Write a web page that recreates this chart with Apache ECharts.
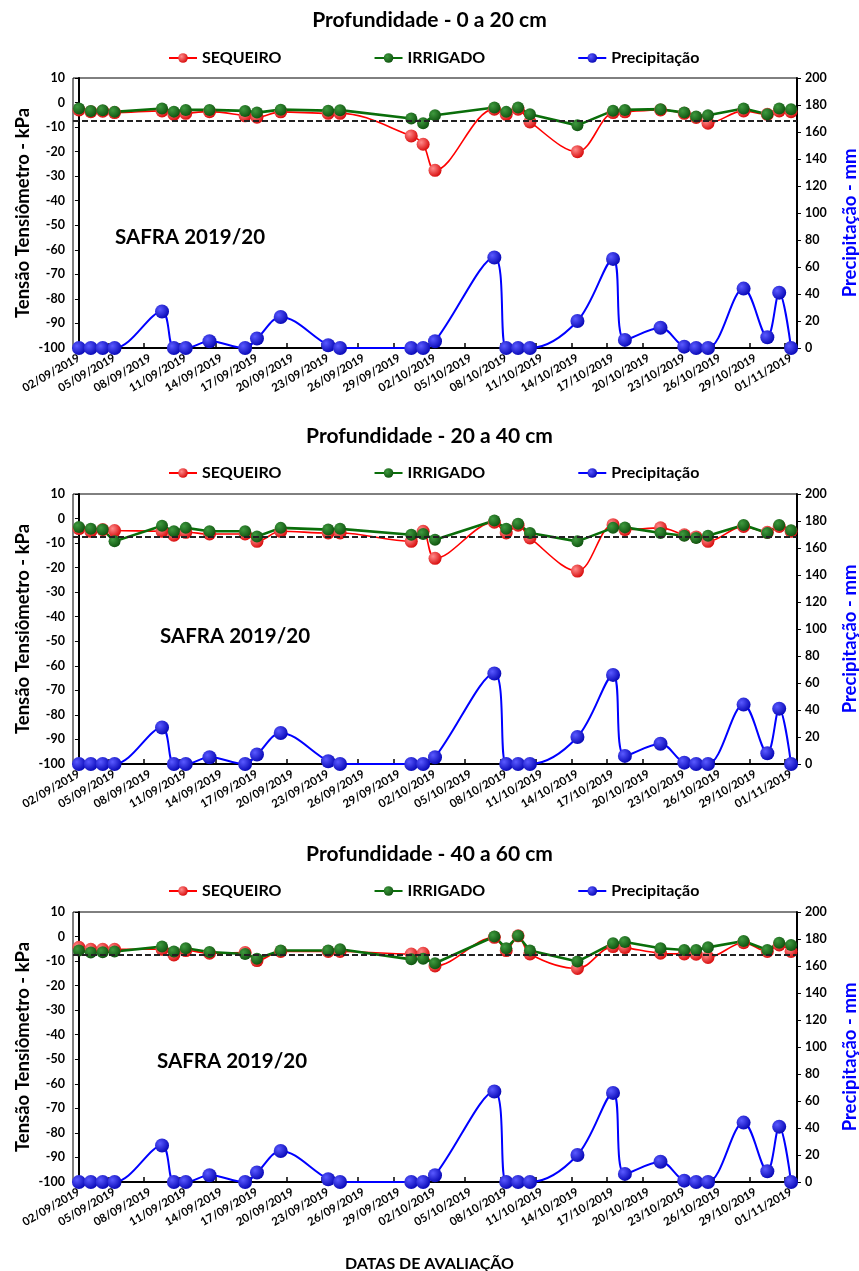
<!DOCTYPE html>
<html>
<head>
<meta charset="utf-8">
<script src="https://cdn.jsdelivr.net/npm/echarts@6/dist/echarts.min.js"></script>
<style>
  html, body { margin: 0; padding: 0; background: #fff; }
  #chart { width: 859px; height: 1271px; }
</style>
</head>
<body>
<div id="chart"></div>
<script>
// datas de avaliação
const dates = ['02/09/2019', '03/09/2019', '04/09/2019', '05/09/2019', '09/09/2019', '10/09/2019', '11/09/2019', '13/09/2019',
  '16/09/2019', '17/09/2019', '19/09/2019', '23/09/2019', '24/09/2019', '30/09/2019', '01/10/2019', '02/10/2019',
  '07/10/2019', '08/10/2019', '09/10/2019', '10/10/2019', '14/10/2019', '17/10/2019', '18/10/2019', '21/10/2019',
  '23/10/2019', '24/10/2019', '25/10/2019', '28/10/2019', '30/10/2019', '31/10/2019', '01/11/2019']

const tickLabels = ['02/09/2019', '05/09/2019', '08/09/2019', '11/09/2019', '14/09/2019', '17/09/2019', '20/09/2019',
  '23/09/2019', '26/09/2019', '29/09/2019', '02/10/2019', '05/10/2019', '08/10/2019', '11/10/2019', '14/10/2019',
  '17/10/2019', '20/10/2019', '23/10/2019', '26/10/2019', '29/10/2019', '01/11/2019']

const precipitacao = [0, 0, 0, 0, 27, 0, 0, 5, 0, 7, 23, 2, 0, 0, 0, 5, 67, 0, 0, 0, 20, 66, 6, 15, 1, 0, 0, 44, 8, 41, 0]

const sequeiro0a20 = [-3.0, -3.7, -3.5, -4.1, -3.4, -4.8, -4.4, -3.7, -5.4, -6.0, -3.8, -4.4, -4.4, -13.6, -17.0, -27.6,
  -2.7, -4.8, -2.7, -7.9, -20.0, -4.1, -3.8, -3.0, -4.4, -6.1, -8.4, -3.4, -4.8, -3.4, -3.7]
const irrigado0a20 = [-2.4, -3.4, -3.1, -3.8, -2.4, -3.7, -3.0, -3.0, -3.4, -4.1, -2.9, -3.3, -3.1, -6.5, -8.4, -5.2,
  -2.0, -3.8, -2.0, -4.8, -9.3, -3.3, -3.0, -2.7, -4.1, -5.7, -5.2, -2.4, -4.8, -2.4, -2.7]

const sequeiro20a40 = [-4.1, -5.2, -4.5, -4.9, -5.2, -6.8, -5.6, -6.3, -6.3, -9.3, -5.2, -5.9, -5.9, -9.3, -5.2, -16.2,
  -1.5, -5.9, -2.7, -7.9, -21.4, -2.5, -4.5, -3.8, -6.6, -7.5, -9.3, -3.2, -5.6, -3.2, -5.2]
const irrigado20a40 = [-3.4, -4.2, -4.5, -9.3, -2.9, -5.2, -3.8, -5.2, -5.2, -7.3, -3.8, -4.5, -4.2, -6.6, -6.3, -8.6,
  -0.8, -4.2, -2.1, -5.9, -9.3, -3.8, -3.6, -5.9, -7.0, -7.9, -7.0, -2.6, -5.9, -2.6, -4.8]

const sequeiro40a60 = [-4.4, -5.2, -5.2, -5.2, -5.2, -7.5, -5.7, -6.8, -6.5, -9.8, -6.1, -6.1, -6.1, -7.1, -6.8, -12.0,
  -0.3, -5.7, 0.3, -7.1, -13.0, -4.1, -4.5, -6.8, -7.1, -7.2, -8.5, -2.5, -6.1, -3.4, -6.1]
const irrigado40a60 = [-5.7, -6.5, -6.4, -6.1, -4.1, -6.1, -4.8, -6.3, -7.1, -9.0, -5.7, -5.7, -5.2, -9.3, -9.0, -10.9,
  0, -4.8, 0.3, -5.7, -10.2, -2.7, -2.2, -4.8, -5.5, -5.5, -4.4, -1.8, -5.5, -2.5, -3.4]

const limite = -7.6

const panelTitles = ['Profundidade - 0 a 20 cm', 'Profundidade - 20 a 40 cm', 'Profundidade - 40 a 60 cm']
const panelData = [[sequeiro0a20, irrigado0a20], [sequeiro20a40, irrigado20a40], [sequeiro40a60, irrigado40a60]]

const FONT = 'Lato, "Open Sans", sans-serif'

const toDay = s => {
  const [d, m, y] = s.split('/').map(Number)
  const [d0, m0, y0] = dates[0].split('/').map(Number)
  return (Date.UTC(y, m - 1, d) - Date.UTC(y0, m0 - 1, d0)) / 86400000
}
const labelDays = tickLabels.map(toDay)
const tickDays = []
for (let i = 0; i < labelDays.length - 1; i++) tickDays.push(labelDays[i] + 2.5)

const ball = (light, dark) => ({
  type: 'radial', x: 0.35, y: 0.35, r: 0.75,
  colorStops: [{offset: 0, color: light}, {offset: 1, color: dark}]
})

const gridTops = [78, 494, 912]
const titleTops = [5, 421, 839]
const legendTops = [45, 460, 878]
const safraPos = [[110, 222], [155, 621], [152, 1046]]

const option = {
  animation: false,
  backgroundColor: '#fff',
  textStyle: {fontFamily: FONT},
  title: [],
  legend: [],
  grid: [],
  xAxis: [],
  yAxis: [],
  series: []
}

panelData.forEach(([seq, irr], p) => {
  option.title.push({
    text: panelTitles[p], left: 'center', top: titleTops[p],
    textStyle: {fontFamily: FONT, fontSize: 21, fontWeight: 'bold', color: '#000'}
  })
  option.title.push({
    text: 'SAFRA 2019/20', left: safraPos[p][0], top: safraPos[p][1],
    textStyle: {fontFamily: FONT, fontSize: 20.5, fontWeight: 'bold', color: '#000'}
  })
  option.legend.push({
    top: legendTops[p], left: 163, itemGap: 92, itemWidth: 28, itemHeight: 12,
    data: ['SEQUEIRO', 'IRRIGADO', 'Precipitação'],
    textStyle: {fontFamily: FONT, fontSize: 16, fontWeight: 'bold', color: '#000'}
  })
  option.grid.push({
    left: 73, right: 62, top: gridTops[p], height: 270,
    outerBoundsMode: 'none', containLabel: false,
    show: true, borderColor: '#000', borderWidth: 1
  })
  option.xAxis.push({
    type: 'value', gridIndex: p, min: -0.5, max: 60.5,
    splitLine: {show: false},
    axisLine: {onZero: false, lineStyle: {color: '#000', width: 2}},
    axisTick: {inside: true, length: 5, customValues: tickDays, lineStyle: {color: '#000', width: 1.5}},
    axisLabel: {
      customValues: labelDays, rotate: 30, margin: 9, color: '#000',
      fontFamily: FONT, fontSize: 11.5, fontWeight: 'bold',
      formatter: v => tickLabels[labelDays.indexOf(v)] || ''
    }
  })
  option.yAxis.push({
    type: 'value', gridIndex: p, min: -100, max: 10, interval: 10,
    name: 'Tensão Tensiômetro - kPa', nameLocation: 'middle', nameGap: 40, nameRotate: 90,
    nameMoveOverlap: false,
    nameTextStyle: {fontFamily: FONT, fontSize: 18.5, fontWeight: 'bold', color: '#000'},
    splitLine: {show: false},
    axisLine: {show: true, lineStyle: {color: '#000', width: 2}},
    axisTick: {show: true, length: 4, lineStyle: {color: '#000'}},
    axisLabel: {color: '#000', fontFamily: FONT, fontSize: 12.5, fontWeight: 'bold', margin: 8}
  })
  option.yAxis.push({
    type: 'value', gridIndex: p, position: 'right', min: 0, max: 200, interval: 20,
    name: 'Precipitação - mm', nameLocation: 'middle', nameGap: 44, nameRotate: 90,
    nameTextStyle: {fontFamily: FONT, fontSize: 18.5, fontWeight: 'bold', color: '#0000ff', padding: [0, 20, 0, 0]},
    splitLine: {show: false},
    axisLine: {show: true, lineStyle: {color: '#000', width: 2}},
    axisTick: {show: true, length: 4, lineStyle: {color: '#000'}},
    axisLabel: {color: '#000', fontFamily: FONT, fontSize: 12.5, fontWeight: 'bold', margin: 8}
  })
  const days = dates.map(toDay)
  option.series.push({
    name: 'SEQUEIRO', type: 'line', xAxisIndex: p, yAxisIndex: 2 * p,
    data: days.map((d, i) => [d, seq[i]]),
    smooth: 0.35, symbol: 'circle', symbolSize: 13,
    lineStyle: {color: '#ff0000', width: 1.6},
    itemStyle: {color: ball('#ff8a8a', '#d40000')}
  })
  option.series.push({
    name: 'IRRIGADO', type: 'line', xAxisIndex: p, yAxisIndex: 2 * p,
    data: days.map((d, i) => [d, irr[i]]),
    symbol: 'circle', symbolSize: 12,
    lineStyle: {color: '#0a6e0a', width: 2.6},
    itemStyle: {color: ball('#3f9a3f', '#0b4d0b')},
    markLine: {
      silent: true, symbol: 'none', label: {show: false},
      lineStyle: {color: '#222', type: [6, 3], width: 1.8},
      data: [{yAxis: limite}]
    }
  })
  option.series.push({
    name: 'Precipitação', type: 'line', xAxisIndex: p, yAxisIndex: 2 * p + 1,
    data: days.map((d, i) => [d, precipitacao[i]]),
    smooth: 0.35, symbol: 'circle', symbolSize: 14,
    lineStyle: {color: '#0000ff', width: 2},
    itemStyle: {color: ball('#5a5aff', '#0000b0')}
  })
})

option.title.push({
  text: 'DATAS DE AVALIAÇÃO', left: 'center', top: 1251,
  textStyle: {fontFamily: FONT, fontSize: 16, fontWeight: 'bold', color: '#000'}
})

const chart = echarts.init(document.getElementById('chart'))
chart.setOption(option)
</script>
</body>
</html>
